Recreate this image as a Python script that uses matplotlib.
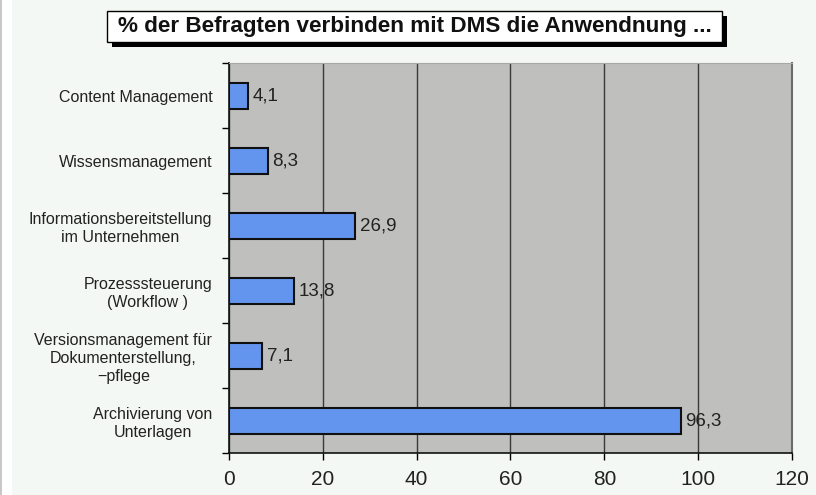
import numpy as np
import matplotlib
matplotlib.use("Agg")
import matplotlib.pyplot as plt
from matplotlib.patches import Rectangle

categories = [
    "Content Management",
    "Wissensmanagement",
    "Informationsbereitstellung\nim Unternehmen",
    "Prozesssteuerung\n(Workflow )",
    "Versionsmanagement für\nDokumenterstellung,\n\u2212pflege",
    "Archivierung von\nUnterlagen",
]
values = [4.1, 8.3, 26.9, 13.8, 7.1, 96.3]
value_labels = ["4,1", "8,3", "26,9", "13,8", "7,1", "96,3"]
x_ticks = [0, 20, 40, 60, 80, 100, 120]
title = "% der Befragten verbinden mit DMS die Anwendnung ..."

plt.rcParams["font.family"] = ["Liberation Sans", "DejaVu Sans"]

fig = plt.figure(figsize=(8.16, 4.95), dpi=100, facecolor="#f4f8f4")
ax = fig.add_axes([0.2806, 0.0848, 0.6900, 0.7879])
ax.set_facecolor("#bfbfbd")

y = np.arange(len(categories))
ax.barh(y, values, height=0.4, color="#6495ee", edgecolor="#101010",
        linewidth=1.5, zorder=3)
for yi, v, lab in zip(y, values, value_labels):
    ax.text(v + 1.0, yi, lab, va="center", ha="left", fontsize=13.5,
            color="#222222", zorder=4)

ax.set_ylim(len(categories) - 0.5, -0.5)
ax.set_xlim(0, 120)
ax.set_xticks(x_ticks)
ax.set_xticklabels([str(t) for t in x_ticks], fontsize=15, color="#222222")
ax.set_yticks(y)
ax.set_yticklabels(categories, fontsize=11.5, color="#222222",
                   linespacing=1.25, multialignment="center")
ax.tick_params(axis="y", length=0, pad=12)
ax.set_yticks(np.arange(-0.5, len(categories)), minor=True)
ax.tick_params(axis="y", which="minor", length=5, width=1, direction="out")
ax.tick_params(axis="x", length=5, width=1, direction="out", pad=7)
ax.xaxis.grid(True, color="#3a3a3a", linewidth=1, zorder=1)
ax.set_axisbelow(True)

for s in ["left", "bottom"]:
    ax.spines[s].set_color("#111111")
    ax.spines[s].set_linewidth(1.2)
ax.spines["top"].set_color("#a8a8a8")
ax.spines["right"].set_color("#6a6a6a")
ax.spines["right"].set_linewidth(1.5)

# title box with shadow
bx, by, bw, bh = 107 / 816, 1 - 42 / 495, 615 / 816, 31 / 495
fig.patches.append(Rectangle((bx + 5 / 816, by - 5 / 495), bw, bh,
                             transform=fig.transFigure, facecolor="#000000",
                             edgecolor="none", zorder=1))
fig.patches.append(Rectangle((bx, by), bw, bh, transform=fig.transFigure,
                             facecolor="#ffffff", edgecolor="#000000",
                             linewidth=1, zorder=2))
fig.text(bx + bw / 2, by + bh / 2, title, ha="center", va="center",
         fontsize=16.2, fontweight="bold", color="#111111", zorder=3)

# left edge strip
fig.patches.append(Rectangle((0, 0), 12 / 816, 1, transform=fig.transFigure,
                             facecolor="#ffffff", edgecolor="none"))
fig.patches.append(Rectangle((0, 0), 2 / 816, 1, transform=fig.transFigure,
                             facecolor="#c8c8c8", edgecolor="none"))

fig.savefig("out.png", dpi=100, facecolor=fig.get_facecolor())
